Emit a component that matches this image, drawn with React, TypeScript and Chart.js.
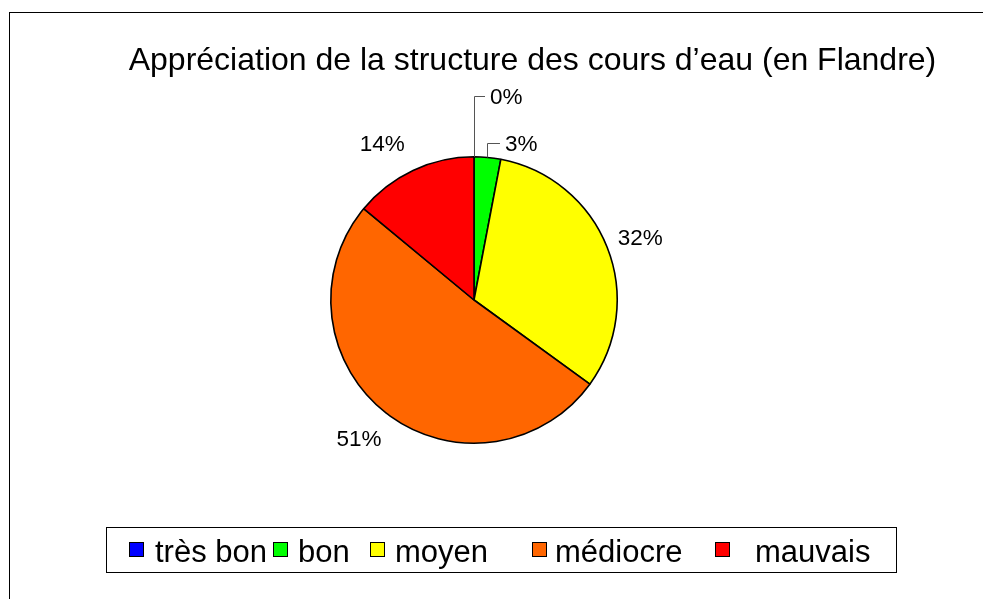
import { useEffect, useRef } from "react";
import { Chart, registerables } from "chart.js";

Chart.register(...registerables);

// ---- data ----
const TITLE = "Appréciation de la structure des cours d’eau (en Flandre)";
const categories = ["très bon", "bon", "moyen", "médiocre", "mauvais"];
const percentages = [0, 3, 32, 51, 14];
const sliceColors = ["#0000FF", "#00FF00", "#FFFF00", "#FF6600", "#FF0000"];

// ---- layout / style ----
const FONT = '"Liberation Sans", Arial, Helvetica, sans-serif';
const W = 983;
const H = 599;
// small nudges for the outside labels (dx, dy) in px
const labelNudges: number[][] = [[0, 0], [0, 0], [1, -3], [-6, 9], [-16, -9]];
// leader-line labels: rise above the slice edge, horizontal gap to text
const leaderLayout: Record<number, { rise: number; gap: number }> = {
  0: { rise: 61, gap: 16 },
  1: { rise: 14.6, gap: 17.5 },
};
const legendSwatchX = [129, 273, 370, 532, 715];
const legendTextX = [155, 298, 395, 555, 755];

const decorPlugin = {
  id: "decor",
  afterDraw(chart: any) {
    const ctx: CanvasRenderingContext2D = chart.ctx;
    ctx.save();
    // outer frame
    ctx.strokeStyle = "#000";
    ctx.lineWidth = 1;
    ctx.strokeRect(9.5, 12.5, 1000, 700);

    // title
    ctx.fillStyle = "#000";
    ctx.font = `32px ${FONT}`;
    ctx.textAlign = "center";
    ctx.textBaseline = "alphabetic";
    ctx.fillText(TITLE, 532.5, 70);

    // data labels
    const meta = chart.getDatasetMeta(0);
    ctx.font = `22.5px ${FONT}`;
    ctx.textAlign = "left";
    meta.data.forEach((el: any, i: number) => {
      const p = el.getProps(["x", "y", "startAngle", "endAngle", "outerRadius"], true);
      const mid = (p.startAngle + p.endAngle) / 2;
      const dx = Math.cos(mid);
      const dy = Math.sin(mid);
      const text = `${percentages[i]}%`;
      const w = ctx.measureText(text).width;
      const capH = 16;
      const lead = leaderLayout[i];
      if (lead) {
        const ex = p.x + dx * p.outerRadius;
        const ey = p.y + dy * p.outerRadius;
        const ly = ey - lead.rise;
        const lx = Math.round(ex) + 0.5;
        ctx.beginPath();
        ctx.strokeStyle = "#555";
        ctx.lineWidth = 1;
        ctx.moveTo(lx, ey);
        ctx.lineTo(lx, Math.round(ly) + 0.5);
        ctx.lineTo(ex + lead.gap - 5, Math.round(ly) + 0.5);
        ctx.stroke();
        ctx.fillStyle = "#000";
        ctx.fillText(text, ex + lead.gap, ly + capH / 2);
      } else {
        const r = p.outerRadius + 12;
        const n = labelNudges[i];
        const cx = p.x + dx * r + (dx * w) / 2 + n[0];
        const cy = p.y + dy * r + (dy * 17) / 2 + n[1];
        ctx.fillStyle = "#000";
        ctx.fillText(text, cx - w / 2, cy + capH / 2);
      }
    });

    // legend
    ctx.strokeStyle = "#000";
    ctx.lineWidth = 1;
    ctx.strokeRect(106.5, 527.5, 790, 45);
    ctx.font = `31px ${FONT}`;
    categories.forEach((c, i) => {
      ctx.fillStyle = sliceColors[i];
      ctx.fillRect(legendSwatchX[i] + 0.5, 542.5, 14, 14);
      ctx.strokeStyle = "#000";
      ctx.strokeRect(legendSwatchX[i] + 0.5, 542.5, 14, 14);
      ctx.fillStyle = "#000";
      ctx.fillText(c, legendTextX[i], 562);
    });
    ctx.restore();
  },
};

export default function App() {
  const ref = useRef<HTMLCanvasElement>(null);
  useEffect(() => {
    if (!ref.current) return;
    const chart = new Chart(ref.current, {
      type: "pie",
      data: {
        labels: categories,
        datasets: [
          {
            data: percentages,
            backgroundColor: sliceColors,
            borderColor: "#000",
            borderWidth: 1.6,
            hoverOffset: 0,
            offset: 0,
          },
        ],
      },
      options: {
        responsive: false,
        animation: false,
        events: [],
        layout: { padding: { left: 330, right: W - 618, top: 156, bottom: H - 444 } },
        plugins: {
          legend: { display: false },
          title: { display: false },
          tooltip: { enabled: false },
        },
      },
      plugins: [decorPlugin],
    });
    return () => chart.destroy();
  }, []);
  return (
    <div style={{ position: "absolute", left: 0, top: 0, width: W, height: H, background: "#fff" }}>
      <canvas ref={ref} width={W} height={H} style={{ display: "block" }} />
    </div>
  );
}
